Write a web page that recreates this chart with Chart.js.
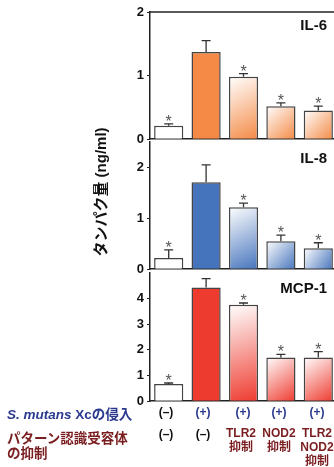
<!DOCTYPE html>
<html lang="ja">
<head>
<meta charset="UTF-8">
<title>タンパク量</title>
<script src="https://cdn.jsdelivr.net/npm/chart.js"></script>
<style>
  body {
    margin: 0;
    width: 334px;
    height: 467px;
    overflow: hidden;
    position: relative;
    background: #fff;
    font-family: Arial, "Liberation Sans", "Noto Sans CJK JP", sans-serif;
  }
  canvas { position: absolute; left: 110px; }
  .t {
    position: absolute;
    font-weight: bold;
    white-space: nowrap;
    font-size: 12px;
    line-height: 14px;
    text-align: center;
    transform: translateX(-50%);
  }
  .row { position: absolute; left: 7px; font-weight: bold; white-space: nowrap; font-size: 13.5px; }
  .navy { color: #2b3a8f; }
  .maroon { color: #7a1d20; }
  .blk { color: #111; }
  #ytitle {
    position: absolute;
    left: 99px; top: 192px;
    transform: translate(-50%, -50%) rotate(-90deg);
    font-weight: bold; font-size: 15px; white-space: nowrap; color: #111;
  }
</style>
</head>
<body>
<canvas id="c1" width="227" height="150" style="top:0px"></canvas>
<canvas id="c2" width="227" height="150" style="top:130px"></canvas>
<canvas id="c3" width="227" height="150" style="top:262px"></canvas>

<div id="ytitle">タンパク量 (ng/ml)</div>

<div class="row navy" style="top:403px"><i>S. mutans</i> Xcの侵入</div>
<div class="row maroon" style="top:427px">パターン認識受容体</div>
<div class="row maroon" style="top:442px">の抑制</div>

<div class="t blk" style="left:166px;top:405px">(–)</div>
<div class="t navy" style="left:203px;top:405px">(+)</div>
<div class="t navy" style="left:243px;top:405px">(+)</div>
<div class="t navy" style="left:279px;top:405px">(+)</div>
<div class="t navy" style="left:317px;top:405px">(+)</div>

<div class="t blk" style="left:166px;top:427px">(–)</div>
<div class="t blk" style="left:203px;top:427px">(–)</div>
<div class="t maroon" style="left:241px;top:426px">TLR2<br>抑制</div>
<div class="t maroon" style="left:279px;top:426px">NOD2<br>抑制</div>
<div class="t maroon" style="left:317px;top:426px">TLR2<br>NOD2<br>抑制</div>

<script>
// groups (x categories)
const groups = ['対照', 'Xc', 'Xc+TLR2抑制', 'Xc+NOD2抑制', 'Xc+TLR2/NOD2抑制'];

// IL-6 (ng/ml)
const il6 = [0.21, 1.37, 0.98, 0.52, 0.45];
const il6Err = [0.03, 0.18, 0.05, 0.05, 0.07];
const il6Ticks = [0, 1, 2];

// IL-8 (ng/ml)
const il8 = [0.22, 1.71, 1.22, 0.55, 0.41];
const il8Err = [0.16, 0.34, 0.08, 0.12, 0.11];
const il8Ticks = [0, 1, 2];

// MCP-1 (ng/ml)
const mcp1 = [0.67, 4.43, 3.76, 1.70, 1.70];
const mcp1Err = [0.04, 0.35, 0.07, 0.13, 0.23];
const mcp1Ticks = [0, 1, 2, 3, 4];

// significance marks
const stars = [true, false, true, true, true];

const decor = {
  id: 'decor',
  afterDatasetsDraw(chart, args, opts) {
    const { ctx, chartArea, scales: { x, y } } = chart;
    const vals = chart.data.datasets[0].data;
    ctx.save();
    ctx.strokeStyle = '#333';
    ctx.lineWidth = 1.3;
    vals.forEach((v, i) => {
      const cx = x.getPixelForValue(i);
      const yb = y.getPixelForValue(v);
      const yt = y.getPixelForValue(v + opts.err[i]);
      ctx.beginPath();
      ctx.moveTo(cx, yb); ctx.lineTo(cx, yt);
      ctx.moveTo(cx - 4.5, yt); ctx.lineTo(cx + 4.5, yt);
      ctx.stroke();
      if (stars[i]) {
        ctx.fillStyle = '#555';
        ctx.font = '16px Arial';
        ctx.textAlign = 'center';
        ctx.textBaseline = 'alphabetic';
        ctx.fillText('*', cx, yt + 3);
      }
    });
    if (opts.topLine) {
      const ty = y.getPixelForValue(y.max);
      ctx.strokeStyle = '#222';
      ctx.lineWidth = 1.5;
      ctx.beginPath();
      ctx.moveTo(chartArea.left, ty); ctx.lineTo(chartArea.right, ty);
      ctx.stroke();
    }
    ctx.fillStyle = '#111';
    ctx.font = 'bold 15px Arial';
    ctx.textAlign = 'right';
    ctx.textBaseline = 'alphabetic';
    ctx.fillText(opts.title, chartArea.right - 10, chartArea.top + opts.titleY);
    ctx.restore();
  }
};

function makeChart(id, values, errs, ticks, yMax, color, title, padTop, xH, titleY, topLine) {
  const fill = (c) => {
    const i = c.dataIndex;
    if (i === 0) return '#fff';
    if (i === 1) return color;
    const chart = c.chart;
    if (!chart.chartArea) return color;
    const x = chart.scales.x, y = chart.scales.y;
    const cx = x.getPixelForValue(i);
    const top = y.getPixelForValue(values[i]);
    const base = y.getPixelForValue(0);
    const g = chart.ctx.createLinearGradient(cx - 15, top, cx + 15, base);
    g.addColorStop(0, '#fff');
    g.addColorStop(1, color);
    return g;
  };
  return new Chart(document.getElementById(id), {
    type: 'bar',
    data: {
      labels: groups,
      datasets: [{
        data: values,
        backgroundColor: fill,
        borderColor: '#444',
        borderWidth: 1.5,
        barPercentage: 0.78,
        categoryPercentage: 1
      }]
    },
    options: {
      responsive: false,
      animation: false,
      layout: { padding: { top: padTop, left: 0, right: 0, bottom: 0 } },
      plugins: {
        legend: { display: false },
        tooltip: { enabled: false },
        decor: { err: errs, title: title, titleY: titleY, topLine: topLine }
      },
      scales: {
        x: {
          ticks: { display: false },
          grid: { display: false },
          border: { display: true, color: '#222', width: 1.5 },
          afterFit: (s) => { s.height = xH; }
        },
        y: {
          min: 0,
          max: yMax,
          afterBuildTicks: (s) => { s.ticks = ticks.map(v => ({ value: v })); },
          ticks: { color: '#111', font: { family: 'Arial', size: 13, weight: 'bold' }, padding: 3 },
          grid: { drawOnChartArea: false, tickLength: 3, color: '#222' },
          border: { display: true, color: '#222', width: 1.5 },
          afterFit: (s) => { s.width = 40; }
        }
      }
    },
    plugins: [decor]
  });
}

makeChart('c1', il6, il6Err, il6Ticks, 2, '#f48a45', 'IL-6', 12, 8, 18, true);
makeChart('c2', il8, il8Err, il8Ticks, 2.5, '#4674bc', 'IL-8', 12, 6.7, 21, false);
makeChart('c3', mcp1, mcp1Err, mcp1Ticks, 5, '#ee3b2f', 'MCP-1', 11, 9, 20, false);
</script>
</body>
</html>
